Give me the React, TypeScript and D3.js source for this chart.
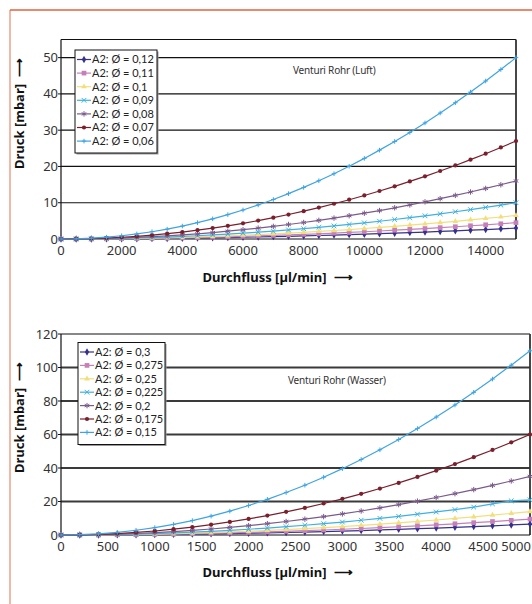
import React from "react";
import * as d3 from "d3";

// --- Venturi Rohr (Luft) ---
const flowLuft = [
  0, 500, 1000, 1500, 2000, 2500, 3000, 3500, 4000, 4500, 5000, 5500, 6000, 6500, 7000, 7500,
  8000, 8500, 9000, 9500, 10000, 10500, 11000, 11500, 12000, 12500, 13000, 13500, 14000, 14500, 15000,
];
const labelsLuft = ["A2: Ø = 0,12", "A2: Ø = 0,11", "A2: Ø = 0,1", "A2: Ø = 0,09", "A2: Ø = 0,08", "A2: Ø = 0,07", "A2: Ø = 0,06"];
const luft012 = [0, 0, 0.01, 0.03, 0.05, 0.08, 0.12, 0.16, 0.21, 0.27, 0.33, 0.4, 0.48, 0.56, 0.65, 0.75, 0.85, 0.96, 1.08, 1.2, 1.33, 1.47, 1.61, 1.76, 1.92, 2.08, 2.25, 2.43, 2.61, 2.8, 3.0];
const luft011 = [0, 0, 0.02, 0.05, 0.08, 0.13, 0.18, 0.24, 0.32, 0.41, 0.5, 0.6, 0.72, 0.85, 0.98, 1.13, 1.28, 1.44, 1.62, 1.8, 2.0, 2.21, 2.42, 2.65, 2.88, 3.13, 3.38, 3.65, 3.92, 4.2, 4.5];
const luft010 = [0, 0.01, 0.03, 0.07, 0.12, 0.18, 0.26, 0.35, 0.46, 0.59, 0.72, 0.87, 1.04, 1.22, 1.42, 1.63, 1.85, 2.09, 2.34, 2.61, 2.89, 3.19, 3.5, 3.82, 4.16, 4.51, 4.88, 5.27, 5.66, 6.07, 6.5];
const luft009 = [0, 0.01, 0.04, 0.1, 0.18, 0.28, 0.4, 0.54, 0.71, 0.9, 1.11, 1.34, 1.6, 1.88, 2.18, 2.5, 2.84, 3.21, 3.6, 4.01, 4.44, 4.9, 5.38, 5.88, 6.4, 6.94, 7.51, 8.1, 8.71, 9.34, 10.0];
const luft008 = [0, 0.02, 0.07, 0.16, 0.28, 0.44, 0.64, 0.87, 1.14, 1.44, 1.78, 2.15, 2.56, 3.0, 3.48, 4.0, 4.55, 5.14, 5.76, 6.42, 7.11, 7.84, 8.6, 9.4, 10.24, 11.11, 12.02, 12.96, 13.94, 14.95, 16.0];
const luft007 = [0, 0.03, 0.12, 0.27, 0.48, 0.75, 1.08, 1.47, 1.92, 2.43, 3.0, 3.63, 4.32, 5.07, 5.88, 6.75, 7.68, 8.67, 9.72, 10.83, 12.0, 13.23, 14.52, 15.87, 17.28, 18.75, 20.28, 21.87, 23.52, 25.23, 27.0];
const luft006 = [0, 0.06, 0.22, 0.5, 0.89, 1.39, 2.0, 2.72, 3.56, 4.5, 5.56, 6.72, 8.0, 9.39, 10.89, 12.5, 14.22, 16.06, 18.0, 20.06, 22.22, 24.5, 26.89, 29.39, 32.0, 34.72, 37.56, 40.5, 43.56, 46.72, 50.0];
const xTicksLuft = [0, 2000, 4000, 6000, 8000, 10000, 12000, 14000];
const yTicksLuft = [0, 10, 20, 30, 40, 50];

// --- Venturi Rohr (Wasser) ---
const flowWasser = [
  0, 200, 400, 600, 800, 1000, 1200, 1400, 1600, 1800, 2000, 2200, 2400, 2600, 2800, 3000,
  3200, 3400, 3600, 3800, 4000, 4200, 4400, 4600, 4800, 5000,
];
const labelsWasser = ["A2: Ø = 0,3", "A2: Ø = 0,275", "A2: Ø = 0,25", "A2: Ø = 0,225", "A2: Ø = 0,2", "A2: Ø = 0,175", "A2: Ø = 0,15"];
const wasser0300 = [0, 0.01, 0.04, 0.09, 0.17, 0.26, 0.37, 0.51, 0.67, 0.84, 1.04, 1.26, 1.5, 1.76, 2.04, 2.34, 2.66, 3.01, 3.37, 3.75, 4.16, 4.59, 5.03, 5.5, 5.99, 6.5];
const wasser0275 = [0, 0.02, 0.06, 0.14, 0.24, 0.38, 0.55, 0.74, 0.97, 1.23, 1.52, 1.84, 2.19, 2.57, 2.98, 3.42, 3.89, 4.39, 4.92, 5.49, 6.08, 6.7, 7.36, 8.04, 8.76, 9.5];
const wasser0250 = [0, 0.02, 0.09, 0.2, 0.36, 0.56, 0.81, 1.1, 1.43, 1.81, 2.24, 2.71, 3.23, 3.79, 4.39, 5.04, 5.73, 6.47, 7.26, 8.09, 8.96, 9.88, 10.84, 11.85, 12.9, 14.0];
const wasser0225 = [0, 0.03, 0.14, 0.31, 0.55, 0.86, 1.24, 1.69, 2.2, 2.79, 3.44, 4.16, 4.95, 5.81, 6.74, 7.74, 8.81, 9.94, 11.15, 12.42, 13.76, 15.17, 16.65, 18.6, 20.4, 21.0];
const wasser0200 = [0, 0.06, 0.22, 0.5, 0.9, 1.4, 2.02, 2.74, 3.58, 4.54, 5.6, 6.78, 8.06, 9.46, 10.98, 12.6, 14.34, 16.18, 18.14, 20.22, 22.4, 24.7, 27.1, 29.62, 32.26, 35.0];
const wasser0175 = [0, 0.1, 0.38, 0.86, 1.54, 2.4, 3.46, 4.7, 6.14, 7.78, 9.6, 11.62, 13.82, 16.22, 18.82, 21.6, 24.58, 27.74, 31.1, 34.66, 38.4, 42.34, 46.46, 50.78, 55.3, 60.0];
const wasser0150 = [0, 0.18, 0.7, 1.58, 2.82, 4.4, 6.34, 8.62, 11.26, 14.26, 17.6, 21.3, 25.34, 29.74, 34.5, 39.6, 45.06, 50.86, 57.02, 63.54, 70.4, 77.62, 85.18, 93.1, 101.38, 110.0];
const xTicksWasser = [0, 500, 1000, 1500, 2000, 2500, 3000, 3500, 4000, 4500, 5000];
const yTicksWasser = [0, 20, 40, 60, 80, 100, 120];

// same look for the seven series in both panels
const seriesColors = ["#36318a", "#c57fb9", "#f2df7c", "#3db1e3", "#7b5a8b", "#7a1f2c", "#3ea4e2"];
const seriesSymbols = [d3.symbolDiamond, d3.symbolSquare, d3.symbolTriangle, d3.symbolX, d3.symbolAsterisk, d3.symbolCircle, d3.symbolPlus];
const seriesSizes = [16, 22, 14, 16, 20, 14, 8];
const strokeSymbols = [d3.symbolX, d3.symbolAsterisk, d3.symbolPlus];

const tickFont = "'Noto Sans', sans-serif";
const legendFont = "Lato, sans-serif";

const Marker = ({ i, x, y }) => {
  const sym = seriesSymbols[i];
  const d = d3.symbol().type(sym).size(seriesSizes[i])();
  const stroked = strokeSymbols.includes(sym);
  return (
    <path
      d={d}
      transform={`translate(${x},${y})`}
      fill={stroked ? "none" : seriesColors[i]}
      stroke={stroked ? seriesColors[i] : "none"}
      strokeWidth={1}
    />
  );
};

const Panel = ({ flows, values, labels, xTicks, yTicks, xMax, yMax, box, legend, note, yTitleY, xTitleY, gridColor, gridWidth }) => {
  const x = d3.scaleLinear().domain([0, xMax]).range([box.l, box.r]);
  const y = d3.scaleLinear().domain([0, yMax]).range([box.b, box.t]);
  const line = d3.line().x((d) => x(d[0])).y((d) => y(d[1]));

  return (
    <g>
      {yTicks.filter((t) => t > 0 && y(t) > box.t + 1).map((t) => (
        <line key={t} x1={box.l} x2={box.r} y1={y(t)} y2={y(t)} stroke={gridColor} strokeWidth={gridWidth} />
      ))}
      <line x1={box.l} x2={box.r} y1={box.t} y2={box.t} stroke="#111" strokeWidth={1.2} />
      <line x1={box.r} x2={box.r} y1={box.t} y2={box.b} stroke="#333" strokeWidth={1.8} />
      <line x1={box.l} x2={box.r} y1={box.b} y2={box.b} stroke="#111" strokeWidth={1.2} />
      <line x1={box.l} x2={box.l} y1={box.t} y2={box.b} stroke="#111" strokeWidth={1.2} />

      {yTicks.map((t) => (
        <g key={t}>
          <line x1={box.l - 3} x2={box.l} y1={y(t)} y2={y(t)} stroke="#111" strokeWidth={1} />
          <text x={box.l - 3} y={y(t)} dy="0.35em" textAnchor="end" fontSize={13} fontFamily={tickFont} fill="#333">
            {t}
          </text>
        </g>
      ))}
      {xTicks.map((t) => {
        // the last label would run past the page edge: keep it inside
        const edge = x(t) + 16 > 532;
        return (
          <text
            key={t}
            x={edge ? 531 : x(t)}
            y={box.b + 16}
            textAnchor={edge ? "end" : "middle"}
            fontSize={13}
            fontFamily={tickFont}
            fill="#333"
          >
            {t}
          </text>
        );
      })}

      {values.map((vals, i) => {
        const pts = flows.map((f, k) => [f, vals[k]]);
        return (
          <g key={i}>
            <path d={line(pts)} fill="none" stroke={seriesColors[i]} strokeWidth={1.2} />
            {pts.map((p, k) => (
              <Marker key={k} i={i} x={x(p[0])} y={y(p[1])} />
            ))}
          </g>
        );
      })}

      <text x={note.x} y={note.y} fontSize={10} fontFamily={tickFont} fill="#333" letterSpacing={-0.2}>
        {note.text}
      </text>

      <rect x={legend.x + 1.5} y={legend.y + 1.5} width={legend.w} height={legend.h} fill="#999" />
      <rect x={legend.x} y={legend.y} width={legend.w} height={legend.h} fill="#fff" stroke="#111" strokeWidth={1} />
      {labels.map((lab, i) => {
        const ry = legend.y + legend.pad + i * legend.row;
        return (
          <g key={lab}>
            <line x1={legend.x + 2} x2={legend.x + 16} y1={ry} y2={ry} stroke={seriesColors[i]} strokeWidth={1.2} />
            <Marker i={i} x={legend.x + 9} y={ry} />
            <text x={legend.x + 17} y={ry} dy="0.36em" fontSize={11} fontFamily={legendFont} fill="#222">
              {lab}
            </text>
          </g>
        );
      })}

      <text
        transform={`translate(24,${yTitleY}) rotate(-90)`}
        fontSize={13}
        fontWeight="bold"
        fontFamily={tickFont}
        fill="#111"
      >
        Druck [mbar]
        <tspan dx={7}>⟶</tspan>
      </text>
      <text x={278} y={xTitleY} textAnchor="middle" fontSize={13} fontWeight="bold" fontFamily={tickFont} fill="#111">
        Durchfluss [µl/min]
        <tspan dx={8}>⟶</tspan>
      </text>
    </g>
  );
};

export default function App() {
  return (
    <svg width={532} height={604} style={{ position: "absolute", left: 0, top: 0, background: "#fff" }}>
      <rect width={532} height={604} fill="#fff" />
      <line x1={10} x2={532} y1={10} y2={10} stroke="#e2623c" strokeWidth={1.5} />
      <line x1={10} x2={10} y1={10} y2={604} stroke="#e2623c" strokeWidth={1.5} opacity={0.6} />

      <Panel
        flows={flowLuft}
        values={[luft012, luft011, luft010, luft009, luft008, luft007, luft006]}
        labels={labelsLuft}
        xTicks={xTicksLuft}
        yTicks={yTicksLuft}
        xMax={15000}
        yMax={55}
        box={{ l: 61, r: 516, t: 39.5, b: 239 }}
        legend={{ x: 75, y: 50, w: 82, h: 103, pad: 9.5, row: 13.6 }}
        note={{ text: "Venturi Rohr (Luft)", x: 293, y: 74 }}
        yTitleY={169}
        xTitleY={282}
        gridColor="#111"
        gridWidth={1.2}
      />
      <Panel
        flows={flowWasser}
        values={[wasser0300, wasser0275, wasser0250, wasser0225, wasser0200, wasser0175, wasser0150]}
        labels={labelsWasser}
        xTicks={xTicksWasser}
        yTicks={yTicksWasser}
        xMax={5000}
        yMax={120}
        box={{ l: 61, r: 530, t: 334, b: 535 }}
        legend={{ x: 78, y: 342.5, w: 87, h: 102, pad: 9.5, row: 13.4 }}
        note={{ text: "Venturi Rohr (Wasser)", x: 288, y: 384 }}
        yTitleY={473}
        xTitleY={577}
        gridColor="#3a3a3a"
        gridWidth={2}
      />
    </svg>
  );
}
